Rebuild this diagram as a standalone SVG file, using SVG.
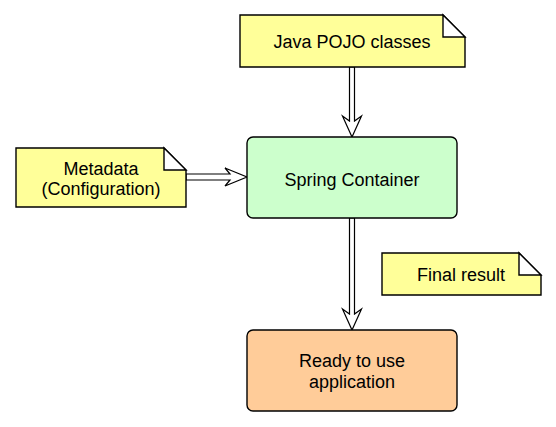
<svg xmlns="http://www.w3.org/2000/svg" width="556" height="427" viewBox="0 0 556 427">
<style>
.note{fill:#ffff99;stroke:#000;stroke-width:1.4;stroke-linejoin:miter}
.fold{fill:#fff;stroke:#000;stroke-width:1.4}
.box{stroke:#000;stroke-width:1.4}
text{font-family:"Liberation Sans",Arial,sans-serif;font-size:18px;fill:#000;text-anchor:middle}
.arrow{fill:#fff;stroke:#000;stroke-width:1.2;stroke-linejoin:miter}
</style>
<rect width="556" height="427" fill="#fff"/>
<g id="connectors">
<path class="arrow" d="M349.5,67 V121 L342.5,116 L352,137 L361.5,116 L354.5,121 V67 Z"/>
<path class="arrow" d="M186,174 H230 L225,168 L247,177 L225,186 L230,180 H186 Z"/>
<path class="arrow" d="M349.5,218 V314 L342.5,309 L352,330 L361.5,309 L354.5,314 V218 Z"/>
</g>
<g id="java-pojo">
<path class="note" d="M240,15 H443 L465,37 V67 H240 Z"/>
<path class="fold" d="M443,15 V37 H465 Z"/>
<text x="352" y="47.5">Java POJO classes</text>
</g>
<g id="metadata">
<path class="note" d="M16,148 H164 L186,170 V207 H16 Z"/>
<path class="fold" d="M164,148 V170 H186 Z"/>
<text x="101" y="175">Metadata</text>
<text x="101" y="195">(Configuration)</text>
</g>
<g id="spring-container">
<rect class="box" x="247" y="137" width="210" height="81" rx="6" fill="#ccffcc"/>
<text x="352" y="186">Spring Container</text>
</g>
<g id="final-result">
<path class="note" d="M382,253 H519 L541,275 V295 H382 Z"/>
<path class="fold" d="M519,253 V275 H541 Z"/>
<text x="461" y="281">Final result</text>
</g>
<g id="ready">
<rect class="box" x="247" y="330" width="210" height="81" rx="6" fill="#ffcc99"/>
<text x="352" y="367">Ready to use</text>
<text x="352" y="388">application</text>
</g>
</svg>
